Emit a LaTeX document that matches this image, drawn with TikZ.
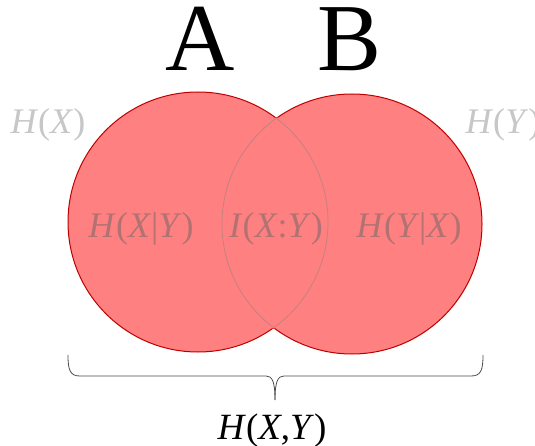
\documentclass[tikz,border=0pt]{standalone}
\usepackage{fontspec}
\setmainfont{Liberation Serif}
\begin{document}
\begin{tikzpicture}[x=1pt, y=-1pt,
  setfill/.style={fill=red!50},
  rim/.style={draw=red!75!black, line width=1pt},
  inner/.style={draw=black!50, draw opacity=0.45, line width=0.8pt},
  big/.style={font=\fontsize{96}{96}\selectfont, inner sep=0pt, anchor=base, text height=63pt},
  outlbl/.style={font=\fontsize{36}{36}\selectfont, inner sep=0pt, anchor=base, text=black!22},
  inlbl/.style={font=\fontsize{36}{36}\selectfont, inner sep=0pt, anchor=base, text=black!60, text opacity=0.5},
  brace/.style={draw=black!70, line width=0.8pt}]
\useasboundingbox (0,0) rectangle (535,446);
\coordinate (cA) at (198,222);
\coordinate (cB) at (352,224);
% the two sets
\fill[setfill] (cA) circle[radius=130];
\fill[setfill] (cB) circle[radius=130];
\draw[rim] (cA) circle[radius=130];
\draw[rim] (cB) circle[radius=130];
% arcs inside the overlap
\begin{scope}
  \clip (cA) circle[radius=130];
  \draw[red!50, line width=2.5pt] (cB) circle[radius=130];
  \draw[inner] (cB) circle[radius=130];
\end{scope}
\begin{scope}
  \clip (cB) circle[radius=130];
  \draw[red!50, line width=2.5pt] (cA) circle[radius=130];
  \draw[inner] (cA) circle[radius=130];
\end{scope}
% labels
\node[big] (la) at (200,71) {A};
\node[big] (lb) at (350,71) {B};
\node[outlbl] (hx) at (48,134) {\textit{H}(\textit{X})};
\node[outlbl] (hy) at (503,134) {\textit{H}(\textit{Y})};
\node[inlbl] (hxy) at (141,238) {\textit{H}(\textit{X}|\textit{Y})};
\node[inlbl] (ixy) at (276,238) {\textit{I}(\textit{X}:\textit{Y})};
\node[inlbl] (hyx) at (409,238) {\textit{H}(\textit{Y}|\textit{X})};
% brace under both sets
\coordinate (bl) at (68,355);
\coordinate (br) at (483,355);
\coordinate (bt) at (275,400);
\draw[brace] (bl) .. controls (68,370) and (70,376) .. (80,376) -- (266,376)
  .. controls (272,376) and (275,381) .. (bt);
\draw[brace] (br) .. controls (483,370) and (481,376) .. (471,376) -- (284,376)
  .. controls (278,376) and (275,381) .. (bt);
\node[font=\fontsize{37}{37}\selectfont, inner sep=0pt, anchor=base] (hxyj) at (272,439) {\textit{H}(\textit{X},\textit{Y})};
\end{tikzpicture}
\end{document}
